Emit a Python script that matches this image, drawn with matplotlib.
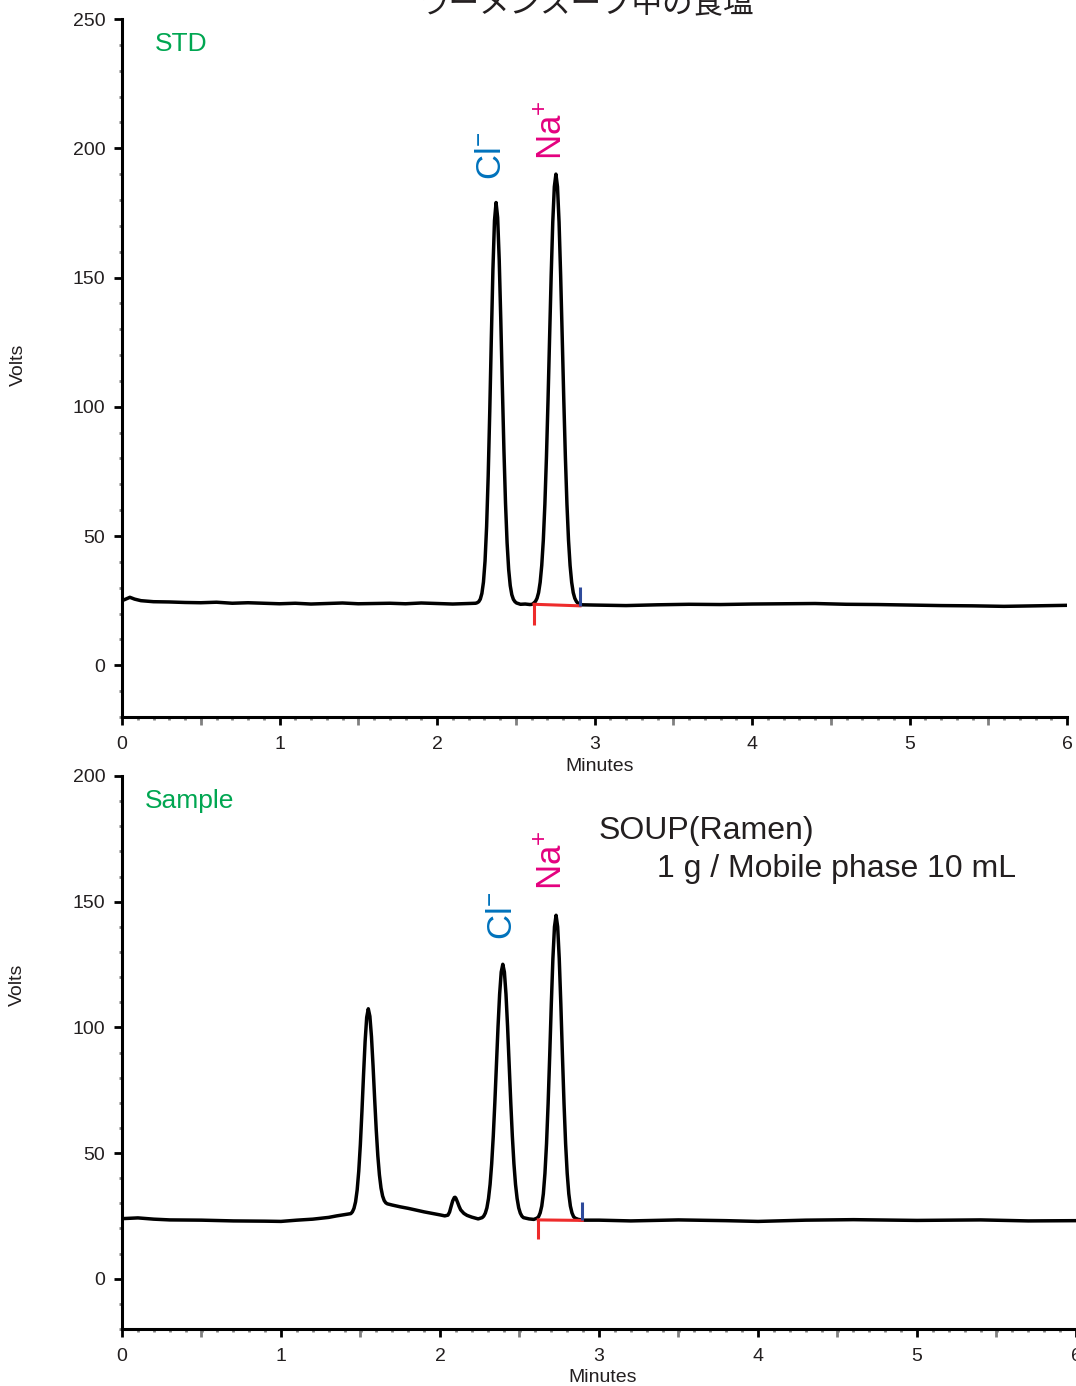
import matplotlib
matplotlib.use("Agg")
import matplotlib.pyplot as plt
from matplotlib.ticker import MultipleLocator, FixedLocator

plt.rcParams['font.family'] = ['Liberation Sans', 'Noto Sans CJK JP', 'DejaVu Sans']
plt.rcParams['mathtext.fontset'] = 'custom'
plt.rcParams['mathtext.rm'] = 'Liberation Sans'
plt.rcParams['mathtext.it'] = 'Liberation Sans'
plt.rcParams['mathtext.default'] = 'rm'

# ---------------- data ----------------
title = "ラーメンスープ中の食塩"

std_time = [0.00, 0.02, 0.05, 0.08, 0.12, 0.20, 0.30, 0.40, 0.50, 0.60, 0.70, 0.80, 0.90,
            1.00, 1.10, 1.20, 1.30, 1.40, 1.50, 1.60, 1.70, 1.80, 1.90, 2.00, 2.10, 2.20,
            2.245, 2.255, 2.265, 2.275, 2.285, 2.295, 2.305, 2.315, 2.325, 2.335, 2.345,
            2.355, 2.365, 2.375, 2.385, 2.395, 2.405, 2.415, 2.425, 2.435, 2.445, 2.455,
            2.465, 2.475, 2.485, 2.495, 2.505, 2.53, 2.56, 2.59, 2.605,
            2.615, 2.625, 2.635, 2.645, 2.655, 2.665, 2.675, 2.685, 2.695, 2.705, 2.715,
            2.725, 2.735, 2.745, 2.755, 2.765, 2.775, 2.785, 2.795, 2.805, 2.815, 2.825,
            2.835, 2.845, 2.855, 2.865, 2.875, 2.885, 2.895, 2.92, 3.00, 3.20, 3.40, 3.60,
            3.80, 4.00, 4.20, 4.40, 4.60, 4.80, 5.00, 5.20, 5.40, 5.60, 5.80, 6.00]
std_volts = [25.0, 25.5, 26.3, 25.6, 25.0, 24.6, 24.5, 24.3, 24.2, 24.4, 24.0, 24.2, 24.0,
             23.8, 24.0, 23.7, 23.9, 24.1, 23.8, 23.9, 24.0, 23.8, 24.1, 23.9, 23.7, 23.9,
             24.0, 24.2, 24.6, 25.6, 27.8, 32.2, 40.3, 53.7, 73.2, 98.3, 126.6,
             153.0, 172.0, 179.0, 173.2, 156.9, 133.6, 107.6, 83.1, 62.7, 47.4, 37.1,
             30.8, 27.3, 25.5, 24.6, 24.1, 23.6, 23.7, 23.5, 23.6,
             24.1, 24.7, 25.9, 28.1, 32.1, 38.6, 48.4, 62.4, 80.7, 102.7, 127.0,
             150.9, 171.4, 185.1, 190.0, 185.1, 171.4, 150.9, 127.0, 102.7, 80.7, 62.4,
             48.4, 38.6, 32.1, 28.1, 25.9, 24.7, 24.0, 23.4, 23.3, 23.1, 23.4, 23.6,
             23.5, 23.7, 23.8, 23.9, 23.6, 23.5, 23.3, 23.1, 23.0, 22.8, 23.0, 23.2]

smp_time = [0.00, 0.10, 0.20, 0.30, 0.50, 0.70, 0.90, 1.00, 1.10, 1.20, 1.30, 1.35, 1.40,
            1.439, 1.449, 1.459, 1.469, 1.479, 1.489, 1.499, 1.509, 1.519, 1.529, 1.539,
            1.549, 1.559, 1.569, 1.579, 1.589, 1.599, 1.609, 1.619, 1.629, 1.639, 1.649,
            1.659, 1.669, 1.70, 1.75, 1.80, 1.85, 1.90, 1.95, 2.00, 2.03, 2.05,
            2.06, 2.07, 2.08, 2.09, 2.095, 2.10, 2.11, 2.12, 2.13, 2.15, 2.17, 2.20, 2.24,
            2.265, 2.275, 2.285, 2.295, 2.305, 2.315, 2.325, 2.335, 2.345, 2.355, 2.365,
            2.375, 2.385, 2.395, 2.405, 2.415, 2.425, 2.435, 2.445, 2.455, 2.465, 2.475,
            2.485, 2.495, 2.505, 2.515, 2.525, 2.56, 2.59,
            2.61, 2.62, 2.63, 2.64, 2.65, 2.66, 2.67, 2.68, 2.69, 2.70, 2.71, 2.72, 2.73,
            2.74, 2.75, 2.76, 2.77, 2.78, 2.79, 2.80, 2.81, 2.82, 2.83, 2.84, 2.85, 2.87,
            2.90, 3.00, 3.20, 3.50, 3.80, 4.00, 4.30, 4.60, 5.00, 5.40, 5.70, 6.00]
smp_volts = [23.9, 24.2, 23.7, 23.4, 23.3, 23.0, 22.9, 22.8, 23.3, 23.7, 24.4, 25.0, 25.5,
             25.9, 26.6, 28.0, 30.6, 35.3, 42.8, 53.3, 66.5, 81.0, 94.4, 104.0,
             107.4, 104.4, 96.3, 84.6, 71.5, 59.2, 48.9, 41.3, 36.1, 32.9, 31.1,
             30.2, 29.8, 29.3, 28.6, 28.0, 27.3, 26.6, 26.0, 25.4, 25.0, 25.3,
             26.5, 28.8, 31.0, 32.3, 32.4, 32.0, 30.5, 28.8, 27.4, 26.0, 25.2, 24.5, 23.8,
             24.3, 24.9, 26.1, 28.2, 31.9, 37.5, 45.7, 56.7, 70.2, 85.2, 100.3,
             113.2, 122.0, 125.1, 122.0, 113.2, 100.3, 85.2, 70.2, 56.7, 45.7, 37.5,
             31.9, 28.2, 26.1, 24.9, 24.3, 23.8, 23.6,
             24.1, 24.7, 26.2, 28.9, 33.8, 41.9, 53.7, 69.7, 88.8, 109.2, 127.3, 140.0, 144.6,
             140.0, 127.3, 109.2, 88.8, 69.7, 53.7, 41.9, 33.8, 28.9, 26.2, 24.7, 24.1, 23.6,
             23.3, 23.3, 23.0, 23.4, 23.1, 22.8, 23.3, 23.5, 23.2, 23.4, 23.0, 23.1]

# integration marks: (start time, end time, level at start, level at end, drop to, blue top)
std_marks = [2.616, 2.908, 23.6, 23.0, 15.7, 30.2]
smp_marks = [2.618, 2.895, 23.4, 23.2, 15.8, 30.7]

std_yticks = [0, 50, 100, 150, 200, 250]
smp_yticks = [0, 50, 100, 150, 200]
xticks = [0, 1, 2, 3, 4, 5, 6]
half_ticks = [0.5, 1.5, 2.5, 3.5, 4.5, 5.5]

BLUE = '#0072BC'
PINK = '#E4007F'
GREEN = '#00A651'
RED = '#EE2B2B'
MARKBLUE = '#2E4A9B'
TXT = '#231F20'

fig = plt.figure(figsize=(10.76, 13.86), dpi=100)


def style_axes(ax, ylim, yticks):
    ax.set_xlim(0, 6)
    ax.set_ylim(*ylim)
    for s in ('top', 'right'):
        ax.spines[s].set_visible(False)
    for s in ('left', 'bottom'):
        ax.spines[s].set_linewidth(2.2)
        ax.spines[s].set_color('black')
    ax.set_xticks(xticks)
    ax.set_yticks(yticks)
    ax.xaxis.set_minor_locator(MultipleLocator(0.1))
    ax.yaxis.set_minor_locator(MultipleLocator(10))
    ax.tick_params(which='major', direction='out', length=6, width=2, color='black',
                   labelsize=14, labelcolor=TXT)
    ax.tick_params(axis='x', which='major', pad=8)
    ax.tick_params(axis='y', which='major', pad=6)
    ax.tick_params(which='minor', direction='out', length=2.5, width=2, color='#808080')
    sec = ax.secondary_xaxis('bottom')
    sec.xaxis.set_major_locator(FixedLocator(half_ticks))
    sec.tick_params(which='major', direction='out', length=6, width=2, color='#808080',
                    labelbottom=False)
    sec.xaxis.set_minor_locator(FixedLocator([]))
    for s in sec.spines.values():
        s.set_visible(False)


def draw_marks(ax, m):
    t0, t1, l0, l1, drop, btop = m
    ax.plot([t0, t0], [drop, l0], color=RED, lw=2.2, solid_capstyle='butt', zorder=4)
    ax.plot([t0, t1], [l0, l1], color=RED, lw=2.2, zorder=4)
    ax.plot([t1, t1], [l1, btop], color=MARKBLUE, lw=2.2, solid_capstyle='butt', zorder=5)


# ---------------- top: STD ----------------
ax1 = fig.add_axes([122 / 1076, 1 - 717 / 1386, 945 / 1076, 698 / 1386])
style_axes(ax1, (-20, 250), std_yticks)
ax1.plot(std_time, std_volts, color='black', lw=2.5, zorder=3)
draw_marks(ax1, std_marks)
ax1.text(0.21, 240.3, 'STD', color=GREEN, fontsize=19, ha='left', va='center')
ax1.text(2.345, 187.7, 'Cl$^{-}$', color=BLUE, fontsize=25, rotation=90,
         ha='center', va='bottom')
ax1.text(2.735, 195.4, 'Na$^{+}$', color=PINK, fontsize=25, rotation=90,
         ha='center', va='bottom')
ax1.text(0.505, -0.0716, 'Minutes', transform=ax1.transAxes, fontsize=14,
         color=TXT, ha='center', va='center')
ax1.text(-0.110, 0.505, 'Volts', transform=ax1.transAxes, fontsize=14, color=TXT,
         rotation=90, ha='center', va='center')

# ---------------- bottom: Sample ----------------
ax2 = fig.add_axes([122 / 1076, 1 - 1329 / 1386, 954 / 1076, 553 / 1386])
style_axes(ax2, (-20, 200), smp_yticks)
ax2.plot(smp_time, smp_volts, color='black', lw=2.5, zorder=3)
draw_marks(ax2, smp_marks)
ax2.text(0.145, 190.0, 'Sample', color=GREEN, fontsize=19, ha='left', va='center')
ax2.text(2.392, 134.7, 'Cl$^{-}$', color=BLUE, fontsize=25, rotation=90,
         ha='center', va='bottom')
ax2.text(2.709, 154.6, 'Na$^{+}$', color=PINK, fontsize=25, rotation=90,
         ha='center', va='bottom')
ax2.text(3.0, 178.1, 'SOUP(Ramen)', color=TXT, fontsize=23, ha='left', va='center')
ax2.text(3.365, 162.9, '1 g / Mobile phase 10 mL', color=TXT, fontsize=23,
         ha='left', va='center')
ax2.text(0.504, -0.0868, 'Minutes', transform=ax2.transAxes, fontsize=14,
         color=TXT, ha='center', va='center')
ax2.text(-0.110, 0.622, 'Volts', transform=ax2.transAxes, fontsize=14, color=TXT,
         rotation=90, ha='center', va='center')

fig.text(586 / 1076, 1 - 4 / 1386, title, fontsize=22, color=TXT, ha='center', va='center')

fig.savefig('out.png', dpi=100)
